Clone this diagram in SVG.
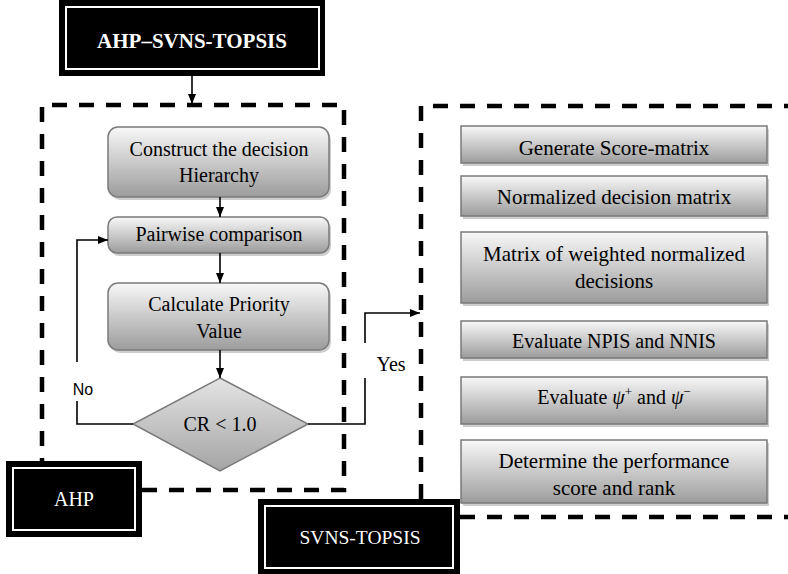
<svg xmlns="http://www.w3.org/2000/svg" width="788" height="574" viewBox="0 0 788 574">
<defs>
<linearGradient id="g" x1="0" y1="0" x2="0" y2="1">
<stop offset="0" stop-color="#f8f8f8"/>
<stop offset="1" stop-color="#9c9c9c"/>
</linearGradient>
<linearGradient id="gd" x1="0" y1="0" x2="0" y2="1">
<stop offset="0" stop-color="#e4e4e4"/>
<stop offset="1" stop-color="#a4a4a4"/>
</linearGradient>
<marker id="ah" markerWidth="10" markerHeight="8" refX="10" refY="4" orient="auto" markerUnits="userSpaceOnUse">
<path d="M0,0 L10,4 L0,8 Z" fill="#000"/>
</marker>
</defs>
<style>
.t{font-family:"Liberation Serif","Times New Roman",serif;font-size:20px;fill:#000;text-anchor:middle}
.r{font-size:21px}
.box{fill:url(#g);stroke:#7a7a7a;stroke-width:1.5}
.sh{fill:#b8b8b8;opacity:0.7}
.dash{fill:none;stroke:#000;stroke-width:4.5;stroke-dasharray:15 12}
.ln{fill:none;stroke:#000;stroke-width:1.6}
.lbl{fill:#000;stroke:none}
.inner{fill:none;stroke:#fff;stroke-width:2}
.wt{font-family:"Liberation Serif","Times New Roman",serif;fill:#fff;text-anchor:middle}
</style>

<g id="frames">
<path class="dash" d="M142,490 H344 V105 H42 V461"/>
<path class="dash" d="M421,499 V106 H788"/>
<path class="dash" d="M460,517 H788"/>
</g>

<g id="title">
<rect x="59" y="-4" width="266" height="80" fill="#000"/>
<rect x="66" y="7" width="253" height="62" class="inner"/>
<text class="wt" x="192" y="48" font-size="21" font-weight="bold">AHP–SVNS-TOPSIS</text>
</g>

<g id="ahp-label">
<rect x="6" y="461" width="136" height="76" fill="#000"/>
<rect x="13" y="468" width="122" height="62" class="inner"/>
<text class="wt" x="74" y="506" font-size="20">AHP</text>
</g>

<g id="svns-label">
<rect x="258" y="499" width="202" height="80" fill="#000"/>
<rect x="265" y="506" width="188" height="62" class="inner"/>
<text class="wt" x="360" y="544" font-size="19.5">SVNS-TOPSIS</text>
</g>

<g id="construct">
<rect class="sh" x="110" y="130" width="221" height="70" rx="10"/>
<rect class="box" x="108" y="127" width="221" height="70" rx="10"/>
<text class="t" x="219" y="156">Construct the decision</text>
<text class="t" x="219" y="182">Hierarchy</text>
</g>

<g id="pairwise">
<rect class="sh" x="110" y="220" width="221" height="36" rx="9"/>
<rect class="box" x="108" y="217" width="221" height="36" rx="9"/>
<text class="t" x="219" y="241">Pairwise comparison</text>
</g>

<g id="priority">
<rect class="sh" x="110" y="286" width="221" height="67" rx="10"/>
<rect class="box" x="108" y="283" width="221" height="67" rx="10"/>
<text class="t" x="219" y="311">Calculate Priority</text>
<text class="t" x="219" y="338">Value</text>
</g>

<g id="cr">
<polygon points="220,378 308,424 220,471 133,424" fill="url(#gd)" stroke="#7a7a7a" stroke-width="1.5"/>
<text class="t" x="220" y="431">CR &lt; 1.0</text>
</g>

<g id="score">
<rect class="sh" x="463" y="129" width="306" height="37"/>
<rect class="box" x="461" y="126" width="306" height="37"/>
<text class="t r" x="614" y="155">Generate Score-matrix</text>
</g>

<g id="normalized">
<rect class="sh" x="463" y="179" width="306" height="40"/>
<rect class="box" x="461" y="176" width="306" height="40"/>
<text class="t r" x="614" y="204">Normalized decision matrix</text>
</g>

<g id="weighted">
<rect class="sh" x="463" y="235" width="306" height="71"/>
<rect class="box" x="461" y="232" width="306" height="71"/>
<text class="t r" x="614" y="261">Matrix of weighted normalized</text>
<text class="t r" x="614" y="288">decisions</text>
</g>

<g id="npis">
<rect class="sh" x="463" y="324" width="306" height="37"/>
<rect class="box" x="461" y="321" width="306" height="37"/>
<text class="t" x="614" y="348">Evaluate NPIS and NNIS</text>
</g>

<g id="psi">
<rect class="sh" x="463" y="380" width="306" height="47"/>
<rect class="box" x="461" y="377" width="306" height="47"/>
<text class="t" x="614" y="404">Evaluate <tspan font-style="italic">ψ</tspan><tspan font-size="13" dy="-8">+</tspan><tspan dy="8"> and </tspan><tspan font-style="italic">ψ</tspan><tspan font-size="13" dy="-8">−</tspan></text>
</g>

<g id="rank">
<rect class="sh" x="463" y="443" width="306" height="63"/>
<rect class="box" x="461" y="440" width="306" height="63"/>
<text class="t r" x="614" y="468">Determine the performance</text>
<text class="t r" x="614" y="495">score and rank</text>
</g>

<g id="connectors">
<path class="ln" d="M192,76 V104" marker-end="url(#ah)"/>
<path class="ln" d="M220,197 V217" marker-end="url(#ah)"/>
<path class="ln" d="M220,253 V283" marker-end="url(#ah)"/>
<path class="ln" d="M220,350 V378" marker-end="url(#ah)"/>
<path class="ln" d="M133,424 H77 V401 M77,362 V240 H108" marker-end="url(#ah)"/>
<path class="ln" d="M308,424 H365 V378 M365,343 V313 H420" marker-end="url(#ah)"/>
<text x="83" y="395" font-family="'Liberation Sans',Arial,sans-serif" font-size="16" text-anchor="middle" class="lbl">No</text>
<text class="t" x="391" y="371">Yes</text>
</g>
</svg>
